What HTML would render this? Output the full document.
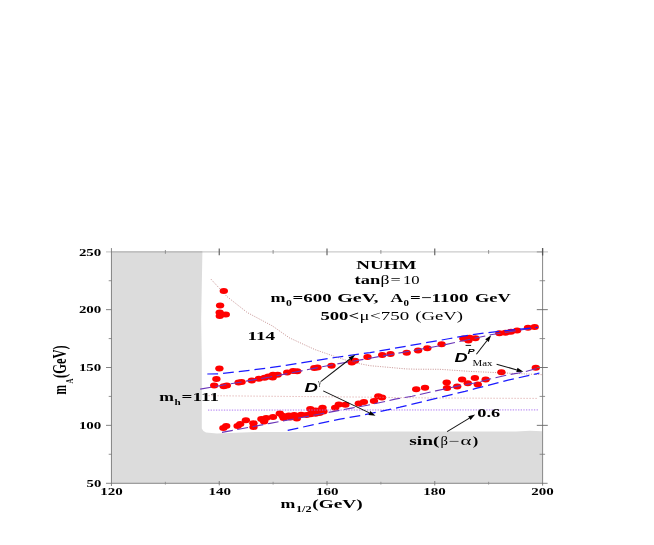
<!DOCTYPE html>
<html><head><meta charset="utf-8"><title>NUHM plot</title>
<style>html,body{margin:0;padding:0;background:#fff;}svg{display:block;will-change:transform;}</style></head>
<body>
<svg width="654" height="545" viewBox="0 0 654 545">
<rect width="654" height="545" fill="#fff"/>
<rect x="111.5" y="252" width="430.5" height="231" fill="#dcdcdc"/>
<path d="M202.4,252 L201.8,285 L201.2,320 L201.8,360 L201.8,428.5 L203.4,431 L206,432.5 L217,433.5 L235,432.8 L255,432.0 L300,432.0 L400,431.5 L516,431.4 L530,430.8 L541.9,431.3 L548,431.3 L548,252 Z" fill="#fff"/>
<ellipse cx="223.8" cy="291.1" rx="4.2" ry="3.0" fill="#f00"/>
<ellipse cx="220.1" cy="305.6" rx="4.2" ry="3.0" fill="#f00"/>
<ellipse cx="219.7" cy="312.5" rx="4.2" ry="3.0" fill="#f00"/>
<ellipse cx="225.8" cy="314.6" rx="4.2" ry="3.0" fill="#f00"/>
<ellipse cx="219.8" cy="316.0" rx="4.2" ry="3.0" fill="#f00"/>
<ellipse cx="219.4" cy="368.4" rx="4.2" ry="3.0" fill="#f00"/>
<ellipse cx="216.4" cy="379.1" rx="4.2" ry="3.0" fill="#f00"/>
<ellipse cx="214.2" cy="385.4" rx="4.2" ry="3.0" fill="#f00"/>
<ellipse cx="223.7" cy="386.2" rx="4.2" ry="3.0" fill="#f00"/>
<ellipse cx="226.8" cy="385.4" rx="4.2" ry="3.0" fill="#f00"/>
<ellipse cx="238.6" cy="382.4" rx="4.2" ry="3.0" fill="#f00"/>
<ellipse cx="241.6" cy="382.0" rx="4.2" ry="3.0" fill="#f00"/>
<ellipse cx="251.8" cy="380.4" rx="4.2" ry="3.0" fill="#f00"/>
<ellipse cx="258.9" cy="378.8" rx="4.2" ry="3.0" fill="#f00"/>
<ellipse cx="264.6" cy="377.7" rx="4.2" ry="3.0" fill="#f00"/>
<ellipse cx="268.4" cy="376.5" rx="4.2" ry="3.0" fill="#f00"/>
<ellipse cx="272.7" cy="377.4" rx="4.2" ry="3.0" fill="#f00"/>
<ellipse cx="273.0" cy="374.7" rx="4.2" ry="3.0" fill="#f00"/>
<ellipse cx="277.7" cy="374.7" rx="4.2" ry="3.0" fill="#f00"/>
<ellipse cx="287.2" cy="372.6" rx="4.2" ry="3.0" fill="#f00"/>
<ellipse cx="293.1" cy="371.0" rx="4.2" ry="3.0" fill="#f00"/>
<ellipse cx="297.2" cy="371.3" rx="4.2" ry="3.0" fill="#f00"/>
<ellipse cx="314.3" cy="368.1" rx="4.2" ry="3.0" fill="#f00"/>
<ellipse cx="317.5" cy="367.5" rx="4.2" ry="3.0" fill="#f00"/>
<ellipse cx="331.5" cy="365.8" rx="4.2" ry="3.0" fill="#f00"/>
<ellipse cx="351.8" cy="362.4" rx="4.2" ry="3.0" fill="#f00"/>
<ellipse cx="355.0" cy="360.7" rx="4.2" ry="3.0" fill="#f00"/>
<ellipse cx="367.5" cy="357.0" rx="4.2" ry="3.0" fill="#f00"/>
<ellipse cx="382.2" cy="355.1" rx="4.2" ry="3.0" fill="#f00"/>
<ellipse cx="390.5" cy="353.9" rx="4.2" ry="3.0" fill="#f00"/>
<ellipse cx="406.7" cy="352.7" rx="4.2" ry="3.0" fill="#f00"/>
<ellipse cx="418.1" cy="350.4" rx="4.2" ry="3.0" fill="#f00"/>
<ellipse cx="427.3" cy="348.2" rx="4.2" ry="3.0" fill="#f00"/>
<ellipse cx="441.6" cy="344.2" rx="4.2" ry="3.0" fill="#f00"/>
<ellipse cx="463.4" cy="338.4" rx="4.2" ry="3.0" fill="#f00"/>
<ellipse cx="468.4" cy="340.5" rx="4.2" ry="3.0" fill="#f00"/>
<ellipse cx="469.6" cy="337.8" rx="4.2" ry="3.0" fill="#f00"/>
<ellipse cx="475.4" cy="338.2" rx="4.2" ry="3.0" fill="#f00"/>
<ellipse cx="499.4" cy="333.2" rx="4.2" ry="3.0" fill="#f00"/>
<ellipse cx="505.5" cy="332.7" rx="4.2" ry="3.0" fill="#f00"/>
<ellipse cx="511.0" cy="331.8" rx="4.2" ry="3.0" fill="#f00"/>
<ellipse cx="517.1" cy="330.4" rx="4.2" ry="3.0" fill="#f00"/>
<ellipse cx="528.0" cy="327.8" rx="4.2" ry="3.0" fill="#f00"/>
<ellipse cx="534.7" cy="326.9" rx="4.2" ry="3.0" fill="#f00"/>
<ellipse cx="223.4" cy="428.0" rx="4.2" ry="3.0" fill="#f00"/>
<ellipse cx="226.2" cy="426.0" rx="4.2" ry="3.0" fill="#f00"/>
<ellipse cx="237.6" cy="426.0" rx="4.2" ry="3.0" fill="#f00"/>
<ellipse cx="240.2" cy="424.0" rx="4.2" ry="3.0" fill="#f00"/>
<ellipse cx="245.9" cy="420.2" rx="4.2" ry="3.0" fill="#f00"/>
<ellipse cx="253.4" cy="423.3" rx="4.2" ry="3.0" fill="#f00"/>
<ellipse cx="253.5" cy="427.0" rx="4.2" ry="3.0" fill="#f00"/>
<ellipse cx="261.4" cy="419.1" rx="4.2" ry="3.0" fill="#f00"/>
<ellipse cx="264.1" cy="421.6" rx="4.2" ry="3.0" fill="#f00"/>
<ellipse cx="266.2" cy="418.0" rx="4.2" ry="3.0" fill="#f00"/>
<ellipse cx="273.0" cy="416.9" rx="4.2" ry="3.0" fill="#f00"/>
<ellipse cx="279.8" cy="413.6" rx="4.2" ry="3.0" fill="#f00"/>
<ellipse cx="282.5" cy="415.8" rx="4.2" ry="3.0" fill="#f00"/>
<ellipse cx="283.6" cy="418.0" rx="4.2" ry="3.0" fill="#f00"/>
<ellipse cx="288.8" cy="415.5" rx="4.2" ry="3.0" fill="#f00"/>
<ellipse cx="294.2" cy="415.0" rx="4.2" ry="3.0" fill="#f00"/>
<ellipse cx="296.8" cy="418.5" rx="4.2" ry="3.0" fill="#f00"/>
<ellipse cx="290.5" cy="417.5" rx="4.2" ry="3.0" fill="#f00"/>
<ellipse cx="301.2" cy="414.8" rx="4.2" ry="3.0" fill="#f00"/>
<ellipse cx="306.6" cy="415.0" rx="4.2" ry="3.0" fill="#f00"/>
<ellipse cx="310.5" cy="414.3" rx="4.2" ry="3.0" fill="#f00"/>
<ellipse cx="315.5" cy="413.7" rx="4.2" ry="3.0" fill="#f00"/>
<ellipse cx="319.5" cy="412.9" rx="4.2" ry="3.0" fill="#f00"/>
<ellipse cx="323.4" cy="411.4" rx="4.2" ry="3.0" fill="#f00"/>
<ellipse cx="310.3" cy="408.9" rx="4.2" ry="3.0" fill="#f00"/>
<ellipse cx="312.6" cy="411.1" rx="4.2" ry="3.0" fill="#f00"/>
<ellipse cx="315.5" cy="410.6" rx="4.2" ry="3.0" fill="#f00"/>
<ellipse cx="319.8" cy="410.5" rx="4.2" ry="3.0" fill="#f00"/>
<ellipse cx="322.5" cy="407.8" rx="4.2" ry="3.0" fill="#f00"/>
<ellipse cx="335.2" cy="407.8" rx="4.2" ry="3.0" fill="#f00"/>
<ellipse cx="338.8" cy="404.4" rx="4.2" ry="3.0" fill="#f00"/>
<ellipse cx="345.4" cy="404.7" rx="4.2" ry="3.0" fill="#f00"/>
<ellipse cx="358.8" cy="403.4" rx="4.2" ry="3.0" fill="#f00"/>
<ellipse cx="363.9" cy="402.0" rx="4.2" ry="3.0" fill="#f00"/>
<ellipse cx="374.0" cy="400.9" rx="4.2" ry="3.0" fill="#f00"/>
<ellipse cx="378.3" cy="396.2" rx="4.2" ry="3.0" fill="#f00"/>
<ellipse cx="382.0" cy="397.6" rx="4.2" ry="3.0" fill="#f00"/>
<ellipse cx="416.2" cy="389.3" rx="4.2" ry="3.0" fill="#f00"/>
<ellipse cx="425.0" cy="387.8" rx="4.2" ry="3.0" fill="#f00"/>
<ellipse cx="446.7" cy="382.5" rx="4.2" ry="3.0" fill="#f00"/>
<ellipse cx="447.0" cy="388.0" rx="4.2" ry="3.0" fill="#f00"/>
<ellipse cx="457.2" cy="386.6" rx="4.2" ry="3.0" fill="#f00"/>
<ellipse cx="462.1" cy="379.6" rx="4.2" ry="3.0" fill="#f00"/>
<ellipse cx="467.8" cy="383.2" rx="4.2" ry="3.0" fill="#f00"/>
<ellipse cx="474.9" cy="378.1" rx="4.2" ry="3.0" fill="#f00"/>
<ellipse cx="477.8" cy="384.5" rx="4.2" ry="3.0" fill="#f00"/>
<ellipse cx="485.7" cy="379.5" rx="4.2" ry="3.0" fill="#f00"/>
<ellipse cx="501.4" cy="372.3" rx="4.2" ry="3.0" fill="#f00"/>
<ellipse cx="535.8" cy="367.7" rx="4.2" ry="3.0" fill="#f00"/>
<path d="M210.9,279.1 L226.9,296.5 L247.2,312.5 L272.5,326.0 L289.3,337.8 L315.0,349.6 L330.0,354.8 L344.7,359.8 L358.6,363.5 L370.0,365.7 L380.5,366.6 L405.7,368.9 L416.0,369.2 L440.0,369.3 L450.0,370.0 L470.0,371.4 L542.4,374.7" fill="none" stroke="#a04848" stroke-width="0.55" stroke-dasharray="1.1,1.3"/>
<path d="M208.5,395.7 L365,397.1 L430,398 L537.6,398.4" fill="none" stroke="#d08888" stroke-width="0.7" stroke-dasharray="1.2,1.8"/>
<line x1="208" y1="410.1" x2="538.9" y2="409.9" stroke="#a468f0" stroke-width="0.9" stroke-dasharray="1.3,1.35"/>
<path d="M200.2,389.1 L270.0,377.0 L330.0,365.2 L370.0,358.2 L440.0,345.8 L490.5,334.8 L537.6,327.3" fill="none" stroke="#6a35b8" stroke-width="1.1" stroke-dasharray="11,4.5"/>
<path d="M222.0,432.4 L270.0,423.4 L298.9,418.0 L330.0,412.1 L351.4,408.1 L367.5,405.2 L385.7,401.4 L395.0,399.1 L412.1,396.2 L435.7,390.9 L465.0,384.5 L475.0,383.0 L488.9,379.3 L507.1,375.0 L524.3,372.0 L539.2,367.7" fill="none" stroke="#6a35b8" stroke-width="1.1" stroke-dasharray="11,4.5"/>
<path d="M207.3,374.0 L219.0,373.9 L267.7,368.1 L335.0,357.5 L370.0,352.6 L440.0,340.3 L450.0,338.5 L470.0,334.9 L490.5,332.3 L537.6,327.3" fill="none" stroke="#1a1aff" stroke-width="1.25" stroke-dasharray="10.8,5"/>
<path d="M287.7,430.3 L340.0,419.1 L364.3,414.8 L400.0,407.2 L465.0,391.4 L475.0,388.7 L507.1,380.3 L537.1,373.7 L539.4,373.0" fill="none" stroke="#1a1aff" stroke-width="1.25" stroke-dasharray="10.8,5"/>
<line x1="106" y1="251.9" x2="548" y2="251.9" stroke="#cbcbcb" stroke-width="1.4"/>
<line x1="111.5" y1="251.9" x2="202.3" y2="251.9" stroke="#b8b8b8" stroke-width="1.4"/>
<line x1="536.8" y1="251.9" x2="542.4" y2="251.9" stroke="#999" stroke-width="1.1"/>
<line x1="111.45" y1="248.1" x2="111.45" y2="486" stroke="#787878" stroke-width="0.9"/>
<line x1="106" y1="483.3" x2="547.6" y2="483.3" stroke="#787878" stroke-width="0.9"/>
<line x1="542.6" y1="248.1" x2="542.6" y2="485.6" stroke="#666" stroke-width="0.8"/>
<line x1="542.6" y1="248.1" x2="542.6" y2="255.5" stroke="#555" stroke-width="1.3"/>
<line x1="165.38" y1="250" x2="165.38" y2="253.8" stroke="#888" stroke-width="0.9"/>
<line x1="165.38" y1="481.8" x2="165.38" y2="484.6" stroke="#888" stroke-width="0.8"/>
<line x1="219.25" y1="248.5" x2="219.25" y2="255.2" stroke="#666" stroke-width="1.2"/>
<line x1="219.25" y1="481" x2="219.25" y2="485.4" stroke="#777" stroke-width="0.9"/>
<line x1="273.12" y1="250" x2="273.12" y2="253.8" stroke="#888" stroke-width="0.9"/>
<line x1="273.12" y1="481.8" x2="273.12" y2="484.6" stroke="#888" stroke-width="0.8"/>
<line x1="327.00" y1="248.5" x2="327.00" y2="255.2" stroke="#666" stroke-width="1.2"/>
<line x1="327.00" y1="481" x2="327.00" y2="485.4" stroke="#777" stroke-width="0.9"/>
<line x1="380.88" y1="250" x2="380.88" y2="253.8" stroke="#888" stroke-width="0.9"/>
<line x1="380.88" y1="481.8" x2="380.88" y2="484.6" stroke="#888" stroke-width="0.8"/>
<line x1="434.75" y1="248.5" x2="434.75" y2="255.2" stroke="#666" stroke-width="1.2"/>
<line x1="434.75" y1="481" x2="434.75" y2="485.4" stroke="#777" stroke-width="0.9"/>
<line x1="488.62" y1="250" x2="488.62" y2="253.8" stroke="#888" stroke-width="0.9"/>
<line x1="488.62" y1="481.8" x2="488.62" y2="484.6" stroke="#888" stroke-width="0.8"/>
<line x1="108.7" y1="454.27" x2="111.5" y2="454.27" stroke="#777" stroke-width="0.8"/>
<line x1="539.6" y1="454.27" x2="545.1" y2="454.27" stroke="#777" stroke-width="0.8"/>
<line x1="106" y1="425.35" x2="111.5" y2="425.35" stroke="#777" stroke-width="0.9"/>
<line x1="536.8" y1="425.35" x2="547.8" y2="425.35" stroke="#666" stroke-width="0.9"/>
<line x1="108.7" y1="396.42" x2="111.5" y2="396.42" stroke="#777" stroke-width="0.8"/>
<line x1="539.6" y1="396.42" x2="545.1" y2="396.42" stroke="#777" stroke-width="0.8"/>
<line x1="106" y1="367.50" x2="111.5" y2="367.50" stroke="#777" stroke-width="0.9"/>
<line x1="536.8" y1="367.50" x2="547.8" y2="367.50" stroke="#666" stroke-width="0.9"/>
<line x1="108.7" y1="338.58" x2="111.5" y2="338.58" stroke="#777" stroke-width="0.8"/>
<line x1="539.6" y1="338.58" x2="545.1" y2="338.58" stroke="#777" stroke-width="0.8"/>
<line x1="106" y1="309.65" x2="111.5" y2="309.65" stroke="#777" stroke-width="0.9"/>
<line x1="536.8" y1="309.65" x2="547.8" y2="309.65" stroke="#666" stroke-width="0.9"/>
<line x1="108.7" y1="280.73" x2="111.5" y2="280.73" stroke="#777" stroke-width="0.8"/>
<line x1="539.6" y1="280.73" x2="545.1" y2="280.73" stroke="#777" stroke-width="0.8"/>
<text transform="translate(100.30,495.00) scale(1.364,1)" font-family="Liberation Serif" font-size="11" font-weight="bold" font-style="normal" fill="#000">120</text>
<text transform="translate(208.40,495.00) scale(1.364,1)" font-family="Liberation Serif" font-size="11" font-weight="bold" font-style="normal" fill="#000">140</text>
<text transform="translate(316.00,495.00) scale(1.364,1)" font-family="Liberation Serif" font-size="11" font-weight="bold" font-style="normal" fill="#000">160</text>
<text transform="translate(423.20,495.00) scale(1.364,1)" font-family="Liberation Serif" font-size="11" font-weight="bold" font-style="normal" fill="#000">180</text>
<text transform="translate(531.30,495.00) scale(1.364,1)" font-family="Liberation Serif" font-size="11" font-weight="bold" font-style="normal" fill="#000">200</text>
<text transform="translate(78.90,429.05) scale(1.358,1)" font-family="Liberation Serif" font-size="11" font-weight="bold" font-style="normal" fill="#000">100</text>
<text transform="translate(78.90,371.20) scale(1.358,1)" font-family="Liberation Serif" font-size="11" font-weight="bold" font-style="normal" fill="#000">150</text>
<text transform="translate(78.90,313.35) scale(1.358,1)" font-family="Liberation Serif" font-size="11" font-weight="bold" font-style="normal" fill="#000">200</text>
<text transform="translate(78.90,255.50) scale(1.358,1)" font-family="Liberation Serif" font-size="11" font-weight="bold" font-style="normal" fill="#000">250</text>
<text transform="translate(86.60,486.70) scale(1.336,1)" font-family="Liberation Serif" font-size="11" font-weight="bold" font-style="normal" fill="#000">50</text>
<text transform="translate(280.50,508.00) scale(1.433,1)" font-family="Liberation Serif" font-size="12.4" font-weight="bold" font-style="normal" fill="#000">m</text>
<text transform="translate(295.90,511.60) scale(1.565,1)" font-family="Liberation Serif" font-size="7.8" font-weight="bold" font-style="normal" fill="#000">1/2</text>
<text transform="translate(312.30,508.00) scale(1.560,1)" font-family="Liberation Serif" font-size="12.4" font-weight="bold" font-style="normal" fill="#000">(GeV)</text>
<text transform="translate(66.40,394.40) scale(1.66,1) rotate(-90)" font-family="Liberation Serif" font-size="11.40" font-weight="bold" font-style="normal">m</text>
<text transform="translate(72.80,383.50) scale(1.5,1) rotate(-90)" font-family="Liberation Serif" font-size="6.93" font-weight="bold" font-style="normal">A</text>
<text transform="translate(66.40,378.00) scale(1.48,1) rotate(-90)" font-family="Liberation Serif" font-size="12.53" font-weight="bold" font-style="normal">(GeV)</text>
<text transform="translate(356.30,268.80) scale(1.548,1)" font-family="Liberation Serif" font-size="12.3" font-weight="bold" font-style="normal" fill="#000">NUHM</text>
<text transform="translate(354.50,284.30) scale(1.542,1)" font-family="Liberation Serif" font-size="12" font-weight="bold" font-style="normal" fill="#000">tan</text>
<text transform="translate(380.60,284.30) scale(1.473,1)" font-family="Liberation Serif" font-size="12" font-weight="normal" font-style="normal" fill="#000">β</text>
<text transform="translate(390.50,284.30) scale(1.507,1)" font-family="Liberation Serif" font-size="12" font-weight="normal" font-style="normal" fill="#000">=</text>
<text transform="translate(403.00,284.30) scale(1.392,1)" font-family="Liberation Serif" font-size="12" font-weight="normal" font-style="normal" fill="#000">10</text>
<text transform="translate(270.50,302.10) scale(1.441,1)" font-family="Liberation Serif" font-size="12.5" font-weight="bold" font-style="normal" fill="#000">m</text>
<text transform="translate(286.00,305.60) scale(1.553,1)" font-family="Liberation Serif" font-size="7.6" font-weight="bold" font-style="normal" fill="#000">0</text>
<text transform="translate(292.50,302.10) scale(1.515,1)" font-family="Liberation Serif" font-size="12.5" font-weight="bold" font-style="normal" fill="#000">=600</text>
<text transform="translate(337.20,302.10) scale(1.604,1)" font-family="Liberation Serif" font-size="12.5" font-weight="bold" font-style="normal" fill="#000">GeV,</text>
<text transform="translate(390.50,302.10) scale(1.396,1)" font-family="Liberation Serif" font-size="12.5" font-weight="bold" font-style="normal" fill="#000">A</text>
<text transform="translate(403.50,305.60) scale(1.447,1)" font-family="Liberation Serif" font-size="7.6" font-weight="bold" font-style="normal" fill="#000">0</text>
<text transform="translate(410.00,302.10) scale(1.518,1)" font-family="Liberation Serif" font-size="12.5" font-weight="bold" font-style="normal" fill="#000">=−1100</text>
<text transform="translate(475.00,302.10) scale(1.469,1)" font-family="Liberation Serif" font-size="12.5" font-weight="bold" font-style="normal" fill="#000">GeV</text>
<text transform="translate(320.40,320.30) scale(1.496,1)" font-family="Liberation Serif" font-size="12.5" font-weight="bold" font-style="normal" fill="#000">500&lt;</text>
<text transform="translate(359.60,320.30) scale(1.478,1)" font-family="Liberation Serif" font-size="12.5" font-weight="normal" font-style="normal" fill="#000">μ</text>
<text transform="translate(370.00,320.30) scale(1.519,1)" font-family="Liberation Serif" font-size="12.5" font-weight="normal" font-style="normal" fill="#000">&lt;750</text>
<text transform="translate(415.30,320.30) scale(1.494,1)" font-family="Liberation Serif" font-size="12.5" font-weight="normal" font-style="normal" fill="#000">(GeV)</text>
<text transform="translate(247.50,340.00) scale(1.475,1)" font-family="Liberation Serif" font-size="13" font-weight="bold" font-style="normal" fill="#000">114</text>
<text transform="translate(159.20,400.70) scale(1.471,1)" font-family="Liberation Serif" font-size="12" font-weight="bold" font-style="normal" fill="#000">m</text>
<text transform="translate(174.60,404.60) scale(1.430,1)" font-family="Liberation Serif" font-size="7.8" font-weight="bold" font-style="normal" fill="#000">h</text>
<text transform="translate(181.60,400.80) scale(1.472,1)" font-family="Liberation Serif" font-size="13" font-weight="bold" font-style="normal" fill="#000">=111</text>
<text transform="translate(477.30,417.30) scale(1.409,1)" font-family="Liberation Serif" font-size="13" font-weight="bold" font-style="normal" fill="#000">0.6</text>
<text transform="translate(409.30,445.20) scale(1.553,1)" font-family="Liberation Serif" font-size="12.5" font-weight="bold" font-style="normal" fill="#000">sin(</text>
<text transform="translate(440.40,445.10) scale(1.133,1)" font-family="Liberation Serif" font-size="13" font-weight="normal" font-style="normal" fill="#000">β</text>
<text transform="translate(448.80,445.10) scale(1.611,1)" font-family="Liberation Serif" font-size="12" font-weight="normal" font-style="normal" fill="#000">−</text>
<text transform="translate(460.60,445.10) scale(1.541,1)" font-family="Liberation Serif" font-size="13.5" font-weight="normal" font-style="normal" fill="#000">α</text>
<text transform="translate(472.70,445.10) scale(1.376,1)" font-family="Liberation Serif" font-size="12" font-weight="bold" font-style="normal" fill="#000">)</text>
<text transform="translate(304.60,391.70) scale(1.547,1)" font-family="Liberation Sans" font-size="12.0" font-weight="bold" font-style="italic" fill="#000">D</text>
<text transform="translate(318.02,385.20) scale(1.021,1)" font-family="Liberation Serif" font-size="7.5" font-weight="normal" font-style="normal" fill="#333">γ</text>
<text transform="translate(454.40,361.60) scale(1.512,1)" font-family="Liberation Sans" font-size="12.0" font-weight="bold" font-style="italic" fill="#000">D</text>
<text transform="translate(467.60,354.20) scale(1.345,1)" font-family="Liberation Sans" font-size="8" font-weight="bold" font-style="italic" fill="#000">P</text>
<line x1="465.6" y1="345.4" x2="471.1" y2="345.4" stroke="#000" stroke-width="0.9"/>
<text transform="translate(472.50,365.80) scale(1.269,1)" font-family="Liberation Serif" font-size="8.6" font-weight="normal" font-style="normal" fill="#000">Max</text>
<line x1="321.1" y1="381.4" x2="349.9" y2="359.0" stroke="#111" stroke-width="1.05"/><polygon points="355.3,354.8 351.3,360.7 348.6,357.2" fill="#000"/>
<line x1="323.2" y1="390.9" x2="369.4" y2="412.9" stroke="#111" stroke-width="1.05"/><polygon points="375.5,415.8 368.4,414.9 370.3,410.9" fill="#000"/>
<line x1="476.4" y1="354.2" x2="486.9" y2="340.7" stroke="#111" stroke-width="1.05"/><polygon points="491.1,335.3 488.7,342.0 485.2,339.3" fill="#000"/>
<line x1="496.6" y1="364.2" x2="516.9" y2="369.9" stroke="#111" stroke-width="1.05"/><polygon points="523.4,371.8 516.3,372.1 517.5,367.8" fill="#000"/>
<line x1="447.1" y1="431.6" x2="469.4" y2="418.1" stroke="#111" stroke-width="1.05"/><polygon points="475.2,414.6 470.5,420.0 468.2,416.2" fill="#000"/>
</svg>
</body></html>
